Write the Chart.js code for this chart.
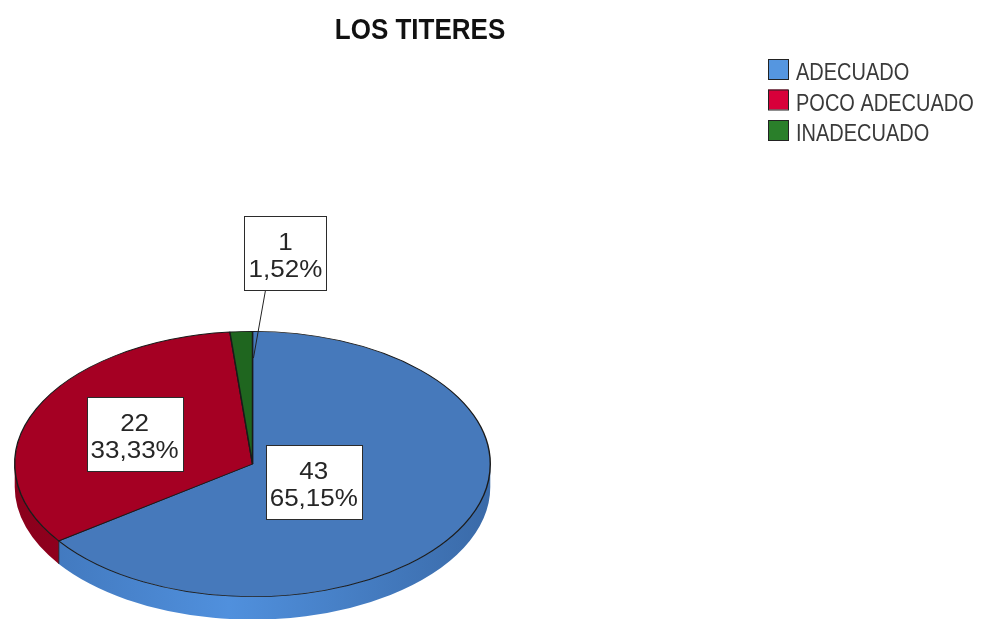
<!DOCTYPE html>
<html>
<head>
<meta charset="utf-8">
<title>LOS TITERES</title>
<script src="https://cdn.jsdelivr.net/npm/chart.js@4/dist/chart.umd.min.js"></script>
<style>
  html, body { margin: 0; padding: 0; background: #fff; }
  #wrap { width: 984px; height: 619px; overflow: hidden; }
  canvas { display: block; }
</style>
</head>
<body>
<div id="wrap"><canvas id="chart" width="984" height="619"></canvas></div>
<script>
// data
const chartTitle = 'LOS TITERES';
const categories = ['ADECUADO', 'POCO ADECUADO', 'INADECUADO'];
const counts = [43, 22, 1];

// colours
const topColors = ['#4679bb', '#a50023', '#1f661f'];
const sideColors = [
  ['#3f74b8', '#5090dd', '#3a6aa8'],
  ['#8a001c', '#a20022', '#8a001c'],
  ['#17501a', '#1f661f', '#17501a']
];
const legendColors = ['#5596e0', '#d8003a', '#2a7f2a'];

const total = counts.reduce((a, b) => a + b, 0);
const pctText = v => (v / total * 100).toFixed(2).replace('.', ',') + '%';

// draws text squeezed a bit horizontally like the original export
const stretchedText = (ctx, text, x, y, sy) => {
  ctx.save();
  ctx.translate(x, y);
  ctx.scale(1, sy);
  ctx.fillText(text, 0, 0);
  ctx.restore();
};

// turns the flat pie into a tilted disc with a visible side wall
const tiltPlugin = {
  id: 'tilt',
  beforeDatasetsDraw(chart, args, opts) {
    const ctx = chart.ctx;
    const area = chart.chartArea;
    const arcs = chart.getDatasetMeta(0).data;
    const k = area.width / area.height;
    const cx = arcs[0].x, cy = arcs[0].y, r = arcs[0].outerRadius;
    ctx.save();
    ctx.translate(cx, cy);
    ctx.scale(k, 1);
    ctx.translate(-cx, -cy);

    arcs.forEach((arc, i) => {
      const a1 = Math.max(arc.startAngle, 0);
      const a2 = Math.min(arc.endAngle, Math.PI);
      if (a2 <= a1) return;
      const g = ctx.createLinearGradient(cx - r, 0, cx + r, 0);
      g.addColorStop(0, sideColors[i][0]);
      g.addColorStop(0.45, sideColors[i][1]);
      g.addColorStop(1, sideColors[i][2]);
      ctx.beginPath();
      ctx.arc(cx, cy, r, a1, a2);
      ctx.arc(cx, cy + opts.depth, r, a2, a1, true);
      ctx.closePath();
      ctx.fillStyle = g;
      ctx.fill();
    });

    // seams between slices on the wall
    ctx.strokeStyle = '#111';
    ctx.lineWidth = 1 / k;
    arcs.forEach(arc => {
      const a = arc.endAngle;
      if (a > 0 && a < Math.PI) {
        const x = cx + r * Math.cos(a), y = cy + r * Math.sin(a);
        ctx.beginPath();
        ctx.moveTo(x, y);
        ctx.lineTo(x, y + opts.depth);
        ctx.stroke();
      }
    });
  },
  afterDatasetsDraw(chart) {
    chart.ctx.restore();
  }
};

// value / percent boxes
const boxLabelPlugin = {
  id: 'boxLabels',
  afterDatasetsDraw(chart, args, opts) {
    const ctx = chart.ctx;
    const area = chart.chartArea;
    const arcs = chart.getDatasetMeta(0).data;
    const k = area.width / area.height;
    const values = chart.data.datasets[0].data;
    ctx.save();
    ctx.font = opts.font;
    ctx.textAlign = 'center';
    ctx.textBaseline = 'alphabetic';
    arcs.forEach((arc, i) => {
      const place = opts.placement[i];
      const mid = (arc.startAngle + arc.endAngle) / 2;
      const ax = arc.x + k * arc.outerRadius * place.f * Math.cos(mid);
      const ay = arc.y + arc.outerRadius * place.f * Math.sin(mid);
      const bx = ax + (place.dx || 0);
      const by = ay + (place.dy || 0);
      const lines = [String(values[i]), pctText(values[i])];
      const w = Math.round(Math.max(...lines.map(t => ctx.measureText(t).width)) + 8);
      const h = 74;
      const left = Math.round(bx - w / 2) + 0.5;
      const top = Math.round(by - h / 2) + 0.5;
      if (place.dx || place.dy) {
        ctx.strokeStyle = '#222';
        ctx.lineWidth = 1;
        ctx.beginPath();
        ctx.moveTo(bx - 20, top + h);
        ctx.lineTo(ax + 10, ay);
        ctx.stroke();
      }
      ctx.fillStyle = '#fff';
      ctx.fillRect(left, top, w, h);
      ctx.strokeStyle = '#2b2b2b';
      ctx.lineWidth = 1;
      ctx.strokeRect(left, top, w, h);
      ctx.fillStyle = '#262626';
      stretchedText(ctx, lines[0], bx, by - 3, 0.95);
      stretchedText(ctx, lines[1], bx, by + 24, 0.95);
    });
    ctx.restore();
  }
};

// title and legend drawn where the original export puts them
const headerPlugin = {
  id: 'header',
  afterDraw(chart, args, opts) {
    const ctx = chart.ctx;
    ctx.save();
    ctx.fillStyle = '#111';
    ctx.font = 'bold 26px "Liberation Sans", Arial, sans-serif';
    ctx.textAlign = 'center';
    stretchedText(ctx, chartTitle, opts.titleX, opts.titleY, 1.12);

    ctx.textAlign = 'left';
    ctx.font = '20px "Liberation Sans", Arial, sans-serif';
    categories.forEach((name, i) => {
      const base = opts.legendY + i * opts.legendStep;
      ctx.fillStyle = legendColors[i];
      ctx.fillRect(opts.legendX, base - 21, 20, 20);
      ctx.strokeStyle = '#222';
      ctx.lineWidth = 1;
      ctx.strokeRect(opts.legendX + 0.5, base - 20.5, 20, 20);
      ctx.fillStyle = '#3a3a3a';
      stretchedText(ctx, name, opts.legendX + 28, base, 1.22);
    });
    ctx.restore();
  }
};

new Chart(document.getElementById('chart'), {
  type: 'pie',
  data: {
    labels: categories,
    datasets: [{
      data: counts,
      backgroundColor: topColors,
      borderColor: '#1a1a1a',
      borderWidth: 0.8,
      hoverOffset: 0,
      clip: false
    }]
  },
  options: {
    responsive: false,
    animation: false,
    devicePixelRatio: 1,
    events: [],
    layout: { padding: { left: 14, right: 493, top: 331, bottom: 22 } },
    plugins: {
      legend: { display: false },
      title: { display: false },
      tooltip: { enabled: false },
      tilt: { depth: 23 },
      boxLabels: {
        font: '26px "Liberation Sans", Arial, sans-serif',
        placement: [{ f: 0.29 }, { f: 0.545 }, { f: 0.8, dx: 42, dy: -105 }]
      },
      header: { titleX: 420, titleY: 39, legendX: 768, legendY: 80, legendStep: 30.5 }
    }
  },
  plugins: [tiltPlugin, boxLabelPlugin, headerPlugin]
});
</script>
</body>
</html>
